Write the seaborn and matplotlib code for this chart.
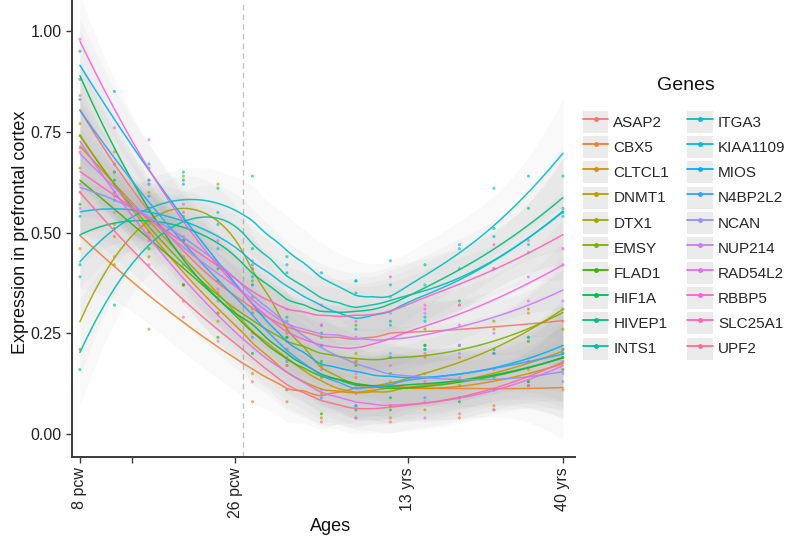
import matplotlib
matplotlib.use("Agg")
import matplotlib.pyplot as plt
from matplotlib.lines import Line2D
from matplotlib.patches import Rectangle
from matplotlib.legend_handler import HandlerLine2D
import numpy as np
import pandas as pd
import seaborn as sns

sns.set_style("ticks")
plt.rcParams["font.family"] = ["Liberation Sans", "DejaVu Sans"]

# age index of each sample (stages from 8 pcw to 40 yrs)
AGES = [1, 3, 5, 7, 9, 11, 13, 15, 17, 19, 21, 23, 25, 27, 29]
TICK_POS = [1, 4, 10, 20, 29]
TICK_LABELS = ["8 pcw", "", "26 pcw", "13 yrs", "40 yrs"]
BIRTH = 10.45

ASAP2 = [0.84, 0.59, 0.63, 0.37, 0.42, 0.37, 0.19, 0.27, 0.18, 0.34, 0.20, 0.32, 0.20, 0.30, 0.28]
CBX5 = [0.46, 0.49, 0.26, 0.33, 0.30, 0.08, 0.08, 0.17, 0.04, 0.15, 0.19, 0.04, 0.07, 0.16, 0.11]
CLTCL1 = [0.77, 0.52, 0.60, 0.37, 0.38, 0.15, 0.21, 0.04, 0.18, 0.04, 0.15, 0.19, 0.06, 0.13, 0.20]
DNMT1 = [0.66, 0.70, 0.49, 0.54, 0.28, 0.31, 0.11, 0.17, 0.14, 0.07, 0.06, 0.22, 0.20, 0.12, 0.21]
DTX1 = [0.21, 0.42, 0.66, 0.64, 0.62, 0.34, 0.25, 0.10, 0.20, 0.07, 0.21, 0.13, 0.26, 0.31, 0.26]
EMSY = [0.74, 0.65, 0.44, 0.48, 0.30, 0.38, 0.17, 0.14, 0.27, 0.15, 0.26, 0.12, 0.28, 0.24, 0.31]
FLAD1 = [0.57, 0.65, 0.46, 0.48, 0.24, 0.30, 0.24, 0.05, 0.17, 0.06, 0.22, 0.09, 0.11, 0.23, 0.16]
HIF1A = [0.95, 0.63, 0.56, 0.37, 0.42, 0.20, 0.24, 0.18, 0.06, 0.09, 0.22, 0.08, 0.21, 0.13, 0.19]
HIVEP1 = [0.42, 0.60, 0.53, 0.63, 0.41, 0.46, 0.29, 0.25, 0.38, 0.28, 0.42, 0.33, 0.51, 0.56, 0.55]
INTS1 = [0.16, 0.32, 0.62, 0.53, 0.61, 0.42, 0.44, 0.24, 0.35, 0.37, 0.29, 0.47, 0.41, 0.47, 0.56]
ITGA3 = [0.39, 0.58, 0.50, 0.65, 0.52, 0.64, 0.40, 0.40, 0.26, 0.43, 0.37, 0.41, 0.61, 0.64, 0.64]
KIAA1109 = [0.54, 0.51, 0.67, 0.48, 0.55, 0.39, 0.42, 0.22, 0.38, 0.27, 0.28, 0.46, 0.49, 0.45, 0.54]
MIOS = [0.88, 0.85, 0.59, 0.62, 0.38, 0.37, 0.18, 0.22, 0.07, 0.19, 0.21, 0.09, 0.14, 0.24, 0.20]
N4BP2L2 = [0.83, 0.62, 0.63, 0.42, 0.46, 0.24, 0.28, 0.09, 0.07, 0.19, 0.09, 0.22, 0.20, 0.12, 0.21]
NCAN = [0.56, 0.65, 0.52, 0.57, 0.35, 0.41, 0.21, 0.27, 0.12, 0.20, 0.08, 0.20, 0.11, 0.18, 0.13]
NUP214 = [0.71, 0.55, 0.62, 0.44, 0.34, 0.43, 0.23, 0.27, 0.15, 0.30, 0.30, 0.22, 0.25, 0.39, 0.33]
RAD54L2 = [0.70, 0.67, 0.42, 0.44, 0.23, 0.30, 0.11, 0.11, 0.04, 0.13, 0.04, 0.14, 0.06, 0.18, 0.15]
RBBP5 = [0.98, 0.76, 0.73, 0.49, 0.48, 0.25, 0.31, 0.16, 0.28, 0.17, 0.32, 0.27, 0.41, 0.33, 0.42]
SLC25A1 = [0.60, 0.67, 0.50, 0.55, 0.36, 0.41, 0.26, 0.32, 0.24, 0.39, 0.31, 0.32, 0.47, 0.48, 0.46]
UPF2 = [0.62, 0.44, 0.48, 0.29, 0.33, 0.13, 0.17, 0.03, 0.10, 0.03, 0.13, 0.05, 0.16, 0.12, 0.18]

GENES = ["ASAP2", "CBX5", "CLTCL1", "DNMT1", "DTX1", "EMSY", "FLAD1", "HIF1A",
         "HIVEP1", "INTS1", "ITGA3", "KIAA1109", "MIOS", "N4BP2L2", "NCAN",
         "NUP214", "RAD54L2", "RBBP5", "SLC25A1", "UPF2"]
EXPR = [ASAP2, CBX5, CLTCL1, DNMT1, DTX1, EMSY, FLAD1, HIF1A, HIVEP1, INTS1,
        ITGA3, KIAA1109, MIOS, N4BP2L2, NCAN, NUP214, RAD54L2, RBBP5, SLC25A1, UPF2]
COLORS = ["#F8766D", "#EA8331", "#D89000", "#C09B00", "#A3A500", "#7CAE00",
          "#39B600", "#00BB4E", "#00BF7D", "#00C1A3", "#00BFC4", "#00BAE0",
          "#00B0F6", "#35A2FF", "#9590FF", "#C77CFF", "#E76BF3", "#FA62DB",
          "#FF62BC", "#FF6C91"]


def loess(x, y, grid, span=0.75):
    """Local quadratic fit (like geom_smooth's loess) with a standard error."""
    x = np.asarray(x, float)
    y = np.asarray(y, float)
    n = len(x)
    q = int(np.floor(n * span))

    def smoother(points):
        rows = []
        for x0 in points:
            d = np.abs(x - x0)
            h = np.sort(d)[q - 1] * 1.05
            w = np.clip(1 - (d / h) ** 3, 0, None) ** 3
            X = np.column_stack([np.ones(n), x - x0, (x - x0) ** 2])
            XtW = X.T * w
            rows.append(np.linalg.solve(XtW @ X, XtW)[0])
        return np.array(rows)

    L_grid = smoother(grid)
    L_data = smoother(x)
    resid = y - L_data @ y
    sigma = np.sqrt((resid ** 2).sum() / (n - np.trace(L_data)))
    se = sigma * np.sqrt((L_grid ** 2).sum(axis=1))
    return L_grid @ y, se


class KeyHandler(HandlerLine2D):
    """ggplot-like legend key: grey box behind a line with a dot."""
    def create_artists(self, legend, orig_handle, xdescent, ydescent,
                       width, height, fontsize, trans):
        arts = super().create_artists(legend, orig_handle, xdescent, ydescent,
                                      width, height, fontsize, trans)
        bg = Rectangle((-xdescent, -ydescent), width, height,
                       facecolor="#ebebeb", edgecolor="none", transform=trans)
        return [bg] + list(arts)


df = pd.DataFrame({
    "gene": [g for g in GENES for _ in AGES],
    "age": AGES * len(GENES),
    "expr": [v for vals in EXPR for v in vals],
})

grid = np.linspace(min(AGES), max(AGES), 120)
fits = []
for gene in GENES:
    sub = df[df["gene"] == gene]
    fit, se = loess(sub["age"], sub["expr"], grid)
    fits.append(pd.DataFrame({"gene": gene, "age": grid, "fit": fit,
                              "lo": fit - 2.1 * se, "hi": fit + 2.1 * se}))
fits = pd.concat(fits, ignore_index=True)

fig = plt.figure(figsize=(7.89, 5.47), dpi=100)
ax = fig.add_axes([72 / 789, 1 - 457 / 547, 503 / 789, 457 / 547])

for gene in GENES:
    f = fits[fits["gene"] == gene]
    ax.fill_between(f["age"], f["lo"], f["hi"], color="#999999", alpha=0.06,
                    linewidth=0, zorder=1)

sns.lineplot(data=fits, x="age", y="fit", hue="gene", hue_order=GENES,
             palette=COLORS, lw=1.1, alpha=0.9, legend=False, ax=ax, zorder=3)
sns.scatterplot(data=df, x="age", y="expr", hue="gene", hue_order=GENES,
                palette=COLORS, s=5, alpha=0.65, linewidth=0, legend=False,
                ax=ax, zorder=2)

ax.axvline(BIRTH, ls=(0, (4, 3)), color="#c4c4c4", lw=1, zorder=0.5)

ax.set_xlim(0.54, 29.7)
ax.set_ylim(-0.057, 1.077)
ax.set_yticks([0, 0.25, 0.5, 0.75, 1.0])
ax.set_yticklabels(["0.00", "0.25", "0.50", "0.75", "1.00"])
ax.set_xticks(TICK_POS)
ax.set_xticklabels(TICK_LABELS, rotation=90)

sns.despine(ax=ax)
for side in ["left", "bottom"]:
    ax.spines[side].set_color("#3a3a3a")
    ax.spines[side].set_linewidth(1.4)
ax.tick_params(direction="out", length=4, width=1, color="#3a3a3a",
               labelsize=11.5, labelcolor="#222222")

ax.set_xlabel("Ages", fontsize=13, color="#111111")
ax.set_ylabel("Expression in prefrontal cortex", fontsize=13, color="#111111")
ax.xaxis.set_label_coords(0.513, -0.133)
ax.yaxis.set_label_coords(-0.085, 0.492)

handles = [Line2D([], [], color=c, lw=1.3, marker="o", markersize=2.5)
           for c in COLORS]
fig.text(686 / 789, 1 - 85 / 547, "Genes", fontsize=14, ha="center",
         va="center", color="#111111")
fig.legend(handles, GENES, ncol=2, loc="upper left",
           bbox_to_anchor=(583 / 789, 1 - 111 / 547), frameon=False,
           handler_map={Line2D: KeyHandler()}, numpoints=1, fontsize=11,
           handlelength=1.64, handleheight=1.85, labelspacing=0.2,
           handletextpad=0.35, columnspacing=1.2, borderpad=0,
           borderaxespad=0)

fig.savefig("out.png", dpi=100)
